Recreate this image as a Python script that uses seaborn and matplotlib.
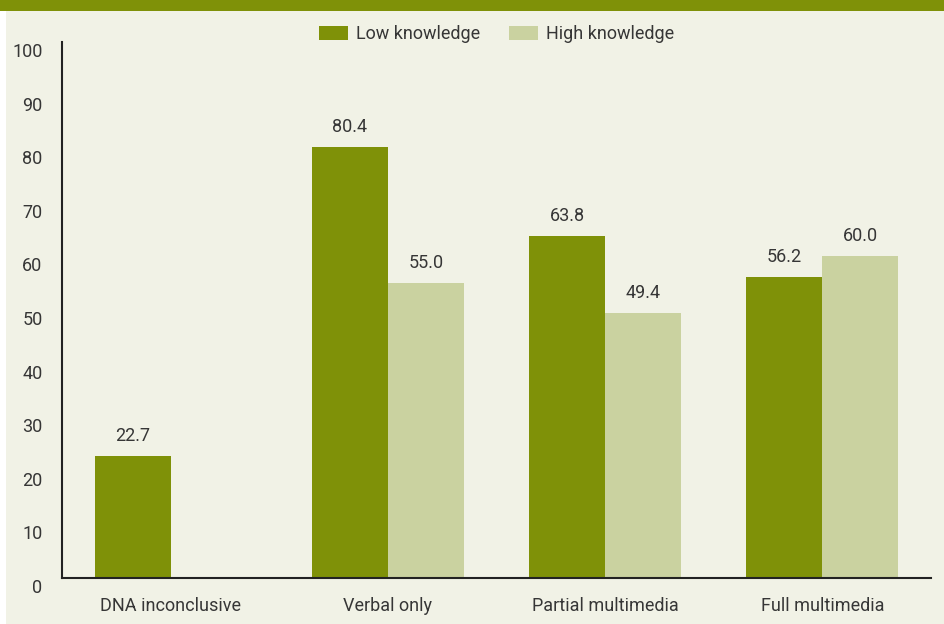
import pandas as pd
import matplotlib.pyplot as plt
import matplotlib.patches as mpatches
import matplotlib.transforms as mtransforms
import seaborn as sns

# Chart data
categories = ['DNA inconclusive', 'Verbal only', 'Partial multimedia', 'Full multimedia']
low_knowledge = [22.7, 80.4, 63.8, 56.2]
high_knowledge = [None, 55.0, 49.4, 60.0]
series_names = ['Low knowledge', 'High knowledge']

green = '#7f9108'
light_green = '#cad2a0'
bg = '#f1f2e6'
text_color = '#363636'

rows = []
for cat, lo, hi in zip(categories, low_knowledge, high_knowledge):
    rows.append({'category': cat, 'group': series_names[0], 'value': lo})
    rows.append({'category': cat, 'group': series_names[1], 'value': hi})
df = pd.DataFrame(rows)

sns.set_style('white')
plt.rcParams['font.family'] = ['Roboto', 'DejaVu Sans']

fig = plt.figure(figsize=(9.45, 6.24), dpi=100, facecolor=bg)
# white strip at the left edge and green band across the top
fig.patches.append(mpatches.Rectangle((0, 0), 6 / 945, 1, transform=fig.transFigure,
                                      facecolor='white', edgecolor='none', zorder=0))
fig.patches.append(mpatches.Rectangle((0, 1 - 11 / 624), 1, 11 / 624, transform=fig.transFigure,
                                      facecolor=green, edgecolor='none', zorder=1))

ax = fig.add_axes([62 / 945, 1 - 578 / 624, (931 - 62) / 945, (578 - 42) / 624])
ax.set_facecolor(bg)

sns.barplot(data=df, x='category', y='value', hue='group', order=categories,
            hue_order=series_names, palette=[green, light_green], width=0.7,
            saturation=1, errorbar=None, linewidth=0, ax=ax)

for container in ax.containers:
    labels = ['' if pd.isna(b.get_height()) else f'{b.get_height():.1f}' for b in container]
    ax.bar_label(container, labels=labels, padding=8, fontsize=13, color=text_color)

ax.set_xlim(-0.5, 3.5)
ax.set_ylim(0, 100)
ax.set_yticks(range(0, 101, 10))
ax.set_xlabel('')
ax.set_ylabel('')
ax.tick_params(axis='both', length=0, labelsize=13, colors=text_color)
ax.tick_params(axis='y', pad=14)
ax.tick_params(axis='x', pad=14)

# y tick labels sit a little below their gridline value in the original
shift = mtransforms.ScaledTranslation(0, -8 / 100, fig.dpi_scale_trans)
for lbl in ax.get_yticklabels():
    lbl.set_transform(lbl.get_transform() + shift)

sns.despine(ax=ax)
for side in ['left', 'bottom']:
    ax.spines[side].set_color('#222222')
    ax.spines[side].set_linewidth(1.5)

ax.legend(loc='center', bbox_to_anchor=(0.5, 1.015), ncol=2, frameon=False,
          fontsize=13, handlelength=1.6, handleheight=0.85, handletextpad=0.45,
          columnspacing=1.6, labelcolor=text_color)

fig.savefig('out.png', dpi=100, facecolor=bg)
